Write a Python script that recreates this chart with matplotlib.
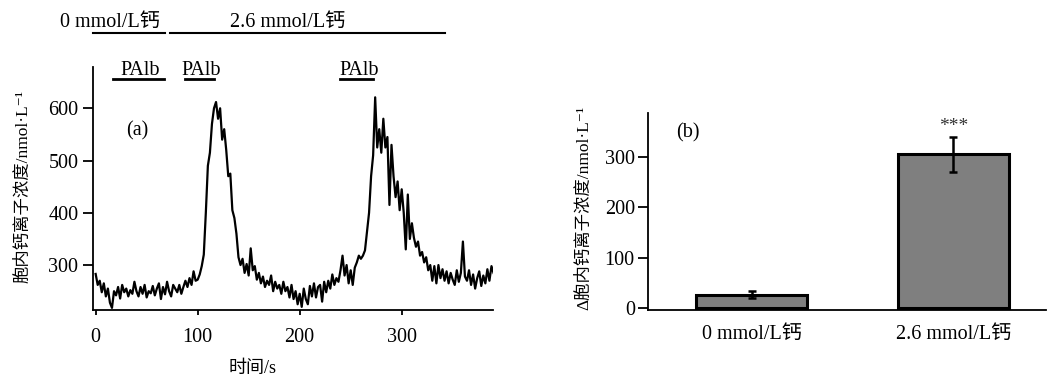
import numpy as np
import matplotlib
matplotlib.use("Agg")
import matplotlib.pyplot as plt

plt.rcParams['font.family'] = ['Liberation Serif', 'DejaVu Serif', 'Noto Sans CJK SC']

# (a) 胞内钙离子浓度随时间的变化，每2 s一个读数
time_s = np.arange(0, 391, 2)
calcium_nm = [
    283, 262, 270, 248, 265, 240, 255, 228, 218, 250,
    242, 258, 236, 262, 248, 255, 240, 252, 245, 268,
    250, 240, 258, 245, 262, 238, 250, 246, 260, 242,
    255, 265, 235, 258, 244, 268, 250, 240, 262, 255,
    248, 262, 245, 258, 270, 258, 275, 262, 288, 270,
    272, 282, 298, 320, 400, 490, 515, 570, 600, 612,
    580, 600, 540, 560, 520, 470, 475, 405, 390, 360,
    315, 300, 312, 285, 302, 280, 332, 290, 298, 272,
    285, 265, 278, 258, 270, 262, 280, 250, 268, 255,
    262, 245, 268, 250, 258, 238, 262, 235, 250, 225,
    245, 220, 255, 235, 225, 260, 240, 265, 238, 258,
    262, 230, 268, 248, 270, 255, 282, 262, 275, 268,
    290, 318, 280, 300, 265, 290, 262, 295, 305, 318,
    312, 318, 328, 365, 400, 470, 510, 621, 525, 560,
    515, 580, 525, 545, 415, 530, 470, 430, 460, 405,
    445, 400, 330, 435, 350, 380, 352, 335, 345, 318,
    325, 305, 315, 290, 300, 270, 298, 265, 300, 275,
    292, 270, 288, 265, 285, 272, 262, 290, 268, 285,
    345, 278, 270, 290, 262, 282, 255, 275, 288, 260,
    280, 265, 292, 270, 298, 285,
]

# 灌流条件 (起止时间, s)
calcium_periods = [(-2.6, 68), (73, 342)]
calcium_labels = ['0 mmol/L钙', '2.6 mmol/L钙']
calcium_text_x = [14, 188]
palb_periods = [(17, 67), (87.5, 116), (240, 272)]

# (b) Δ胞内钙离子浓度
groups = ['0 mmol/L钙', '2.6 mmol/L钙']
delta_nm = [27, 305]
delta_err = [7, 34]

fs = 14.5
fig = plt.figure(figsize=(10.47, 3.78), dpi=100)

# ---- panel (a)
ax1 = fig.add_axes([93 / 1047, 1 - 310 / 378, 400 / 1047, 243 / 378])
ax1.plot(time_s, calcium_nm, color='black', lw=1.6)
ax1.set_xlim(-2.6, 389.5)
ax1.set_ylim(214, 679)
ax1.set_xticks([0, 100, 200, 300])
ax1.set_yticks([300, 400, 500, 600])
for s in ['top', 'right']:
    ax1.spines[s].set_visible(False)
for s in ['left', 'bottom']:
    ax1.spines[s].set_linewidth(1.3)
ax1.tick_params(axis='x', length=3.6, width=1.3, pad=9, labelsize=fs)
ax1.tick_params(axis='y', length=7.5, width=1.3, pad=3, labelsize=fs)
ax1.set_xlabel('时间/s', fontsize=13)
ax1.xaxis.set_label_coords(0.4, -0.205)
ax1.set_ylabel('胞内钙离子浓度/nmol·L⁻¹', fontsize=12.5)
ax1.yaxis.set_label_coords(-0.155, 0.51)
ax1.text(40.5, 556, '(a)', fontsize=fs, ha='center', va='center')

trans = ax1.get_xaxis_transform()
for (x0, x1), lab, xt in zip(calcium_periods, calcium_labels, calcium_text_x):
    ax1.plot([x0, x1], [1.14, 1.14], color='black', lw=1.5, transform=trans, clip_on=False)
    ax1.text(xt, 1.165, lab, fontsize=fs, ha='center', va='baseline', transform=trans)
for x0, x1 in palb_periods:
    ax1.plot([x0, x1], [0.951, 0.951], color='black', lw=2.0, transform=trans, clip_on=False)
    ax1.text((x0 + x1) / 2 + 2, 0.967, 'PAlb', fontsize=fs, ha='center', va='baseline', transform=trans)

# ---- panel (b)
ax2 = fig.add_axes([648 / 1047, 1 - 310 / 378, 398 / 1047, 197 / 378])
xpos = np.arange(len(groups))
ax2.bar(xpos, delta_nm, width=0.55, color='#7f7f7f', edgecolor='black', linewidth=2.2)
ax2.errorbar(xpos, delta_nm, yerr=delta_err, fmt='none', ecolor='black', elinewidth=1.8, capsize=3, capthick=1.8)
ax2.set_xlim(-0.515, 1.46)
ax2.set_ylim(-3.4, 387)
ax2.set_xticks(xpos)
ax2.set_xticklabels(groups)
ax2.set_yticks([0, 100, 200, 300])
for s in ['top', 'right']:
    ax2.spines[s].set_visible(False)
for s in ['left', 'bottom']:
    ax2.spines[s].set_linewidth(1.3)
ax2.tick_params(axis='x', length=0, pad=11, labelsize=fs)
ax2.tick_params(axis='y', length=7.5, width=1.3, pad=2, labelsize=fs)
ax2.set_ylabel('Δ胞内钙离子浓度/nmol·L⁻¹', fontsize=12.5)
ax2.yaxis.set_label_coords(-0.14, 0.52)
ax2.text(-0.317, 348, '(b)', fontsize=fs, ha='center', va='center')
ax2.text(1, 361, '***', fontsize=14, ha='center', va='center', color='#333333')

fig.savefig('out.png', dpi=100)
